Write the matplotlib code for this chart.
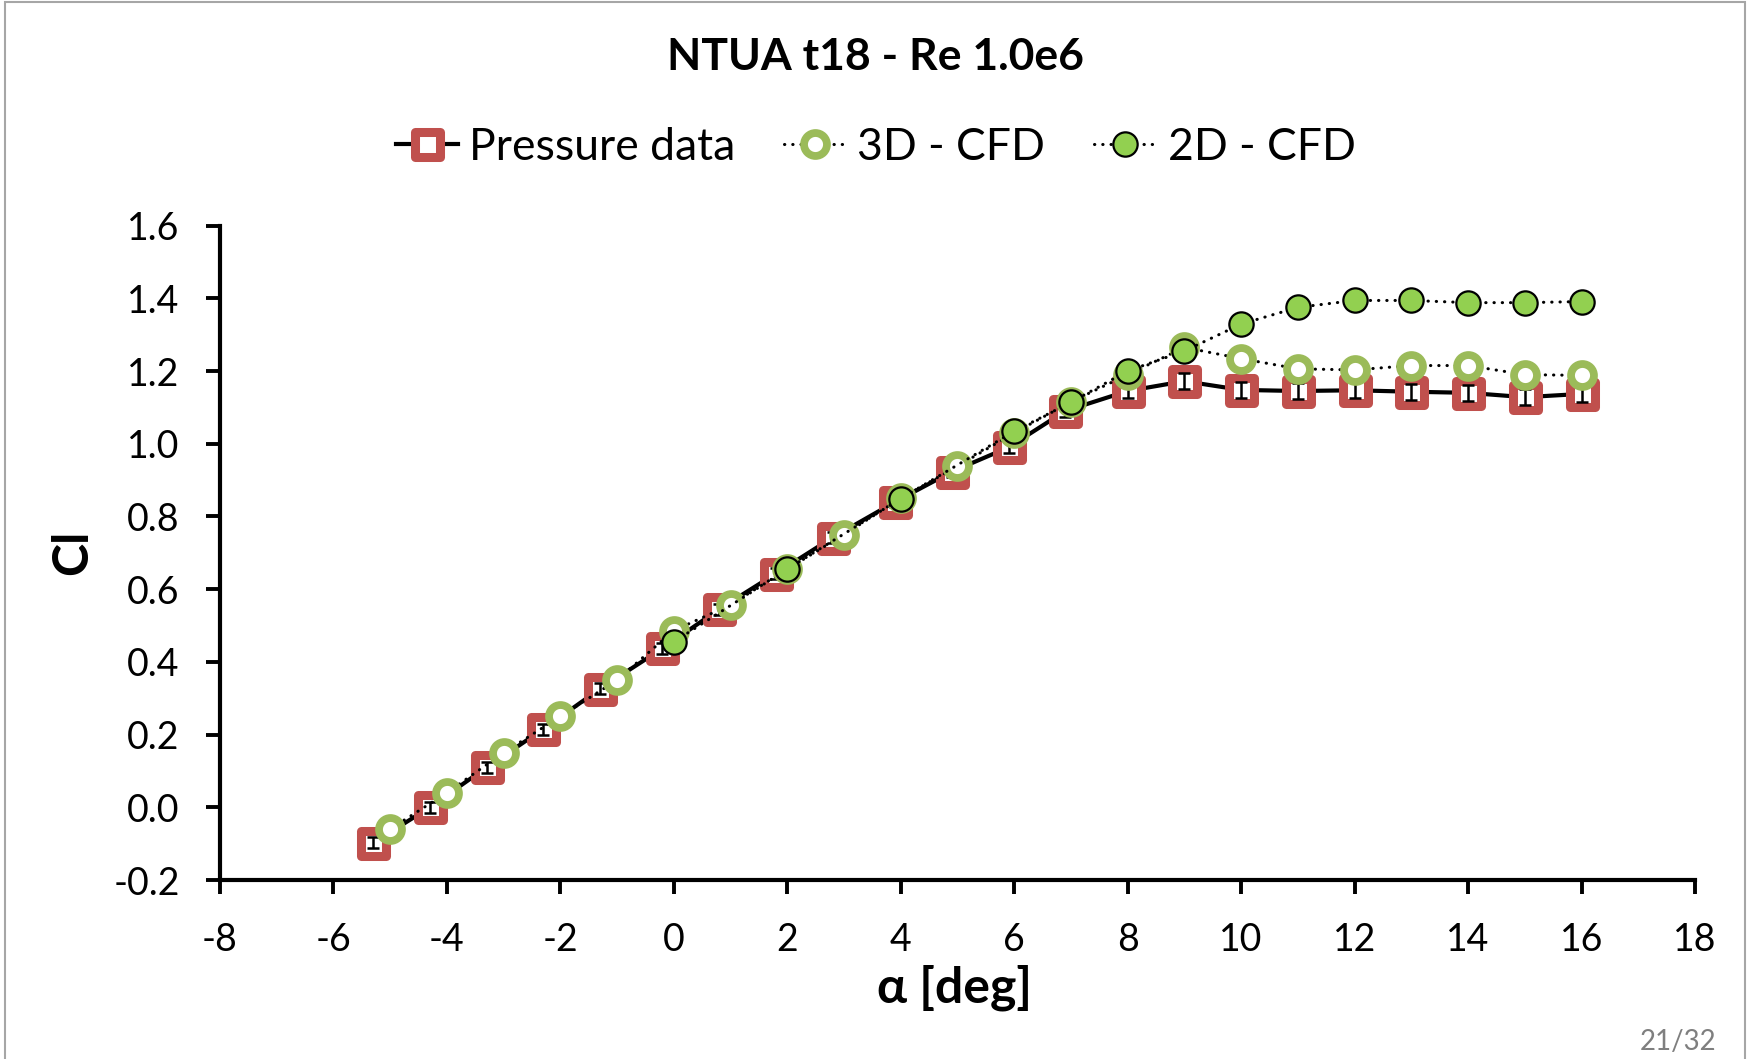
import numpy as np
import matplotlib
matplotlib.use("Agg")
import matplotlib.pyplot as plt
from matplotlib.markers import MarkerStyle
from matplotlib.patches import Rectangle

plt.rcParams["font.family"] = ["Lato", "DejaVu Sans"]
plt.rcParams["axes.unicode_minus"] = False

# ============= Data =============

# pressure measurements (angle of attack, lift coefficient, error)
alpha_exp = [-5.3, -4.3, -3.3, -2.3, -1.3, -0.2, 0.8, 1.8, 2.8, 3.9, 4.9,
             5.9, 6.9, 8.0, 9.0, 10.0, 11.0, 12.0, 13.0, 14.0, 15.0, 16.0]
cl_exp = [-0.098, 0.0, 0.11, 0.215, 0.326, 0.437, 0.545, 0.643, 0.742, 0.84, 0.923,
          0.99, 1.09, 1.145, 1.172, 1.148, 1.145, 1.147, 1.143, 1.14, 1.128, 1.137]
cl_err = [0.015, 0.015, 0.015, 0.015, 0.015, 0.015, 0.015, 0.015, 0.015, 0.015, 0.015,
          0.015, 0.017, 0.018, 0.022, 0.022, 0.022, 0.022, 0.022, 0.022, 0.022, 0.022]

# 3D CFD
alpha_3d = [-5, -4, -3, -2, -1, 0, 1, 2, 3, 4, 5, 6, 7, 8, 9, 10, 11, 12, 13, 14, 15, 16]
cl_3d = [-0.06, 0.04, 0.15, 0.25, 0.35, 0.486, 0.557, 0.655, 0.75, 0.85, 0.938,
         1.03, 1.115, 1.19, 1.265, 1.234, 1.206, 1.203, 1.215, 1.215, 1.19, 1.188]

# 2D CFD
alpha_2d = [0, 2, 4, 6, 7, 8, 9, 10, 11, 12, 13, 14, 15, 16]
cl_2d = [0.455, 0.655, 0.849, 1.034, 1.114, 1.2, 1.255, 1.329, 1.375, 1.394,
         1.394, 1.388, 1.388, 1.391]

x_ticks = np.arange(-8, 19, 2)
y_ticks = np.arange(-0.2, 1.61, 0.2)

# ============= Plot =============

fig = plt.figure(figsize=(17.51, 10.59), dpi=100)
ax = fig.add_axes([0.1256, 0.169, 0.8424, 0.618])

red = "#C0504D"
olive = "#9BBB59"
lime = "#92D050"

sq = MarkerStyle("s", joinstyle="round")

ax.plot(alpha_exp, cl_exp, color="black", lw=3, marker=sq, ms=18,
        mfc="white", mec=red, mew=6.5, zorder=2, label="Pressure data")
ax.errorbar(alpha_exp, cl_exp, yerr=cl_err, fmt="none", ecolor="black",
            elinewidth=1.8, capsize=4.5, capthick=1.8, zorder=3)

ax.plot(alpha_3d, cl_3d, color="black", lw=2.2, ls=(0, (0.1, 2.6)),
        dash_capstyle="round", marker="o", ms=16.5, mfc="white", mec=olive,
        mew=5.6, zorder=4, label="3D - CFD")
ax.plot(alpha_2d, cl_2d, color="black", lw=2.2, ls=(0, (0.1, 2.6)),
        dash_capstyle="round", marker="o", ms=17.5, mfc=lime, mec="black",
        mew=1.6, zorder=5, label="2D - CFD")

ax.set_xlim(-8, 18)
ax.set_ylim(-0.2, 1.6)
ax.set_xticks(x_ticks)
ax.set_yticks(y_ticks)
ax.set_yticklabels([f"{v:.1f}" for v in y_ticks])
ax.tick_params(labelsize=27, length=10, width=2.8, direction="out")
ax.tick_params(axis="y", pad=19)
ax.tick_params(axis="x", pad=20)

for side in ["top", "right"]:
    ax.spines[side].set_visible(False)
for side in ["left", "bottom"]:
    ax.spines[side].set_linewidth(3)

ax.set_xlabel("α [deg]", fontsize=36, fontweight="bold", va="center")
ax.xaxis.set_label_coords(0.498, -0.165)
ax.set_ylabel("Cl", fontsize=36, fontweight="bold", va="center")
ax.yaxis.set_label_coords(-0.0997, 0.5)

fig.text(0.5, 0.946, "NTUA t18 - Re 1.0e6", fontsize=32, fontweight="bold",
         ha="center", va="center")
fig.legend(loc="center", bbox_to_anchor=(0.5, 0.861), ncol=3, frameon=False,
           fontsize=32, handlelength=1.4, columnspacing=1.1, handletextpad=0.25)

fig.text(0.980, 0.0085, "21/32", fontsize=20, color="#7F7F7F", ha="right")
fig.patches.append(Rectangle((0.003, -0.01), 0.9936, 1.008, transform=fig.transFigure,
                             fill=False, edgecolor="#A6A6A6", lw=1.5))

fig.savefig("out.png", dpi=100)
